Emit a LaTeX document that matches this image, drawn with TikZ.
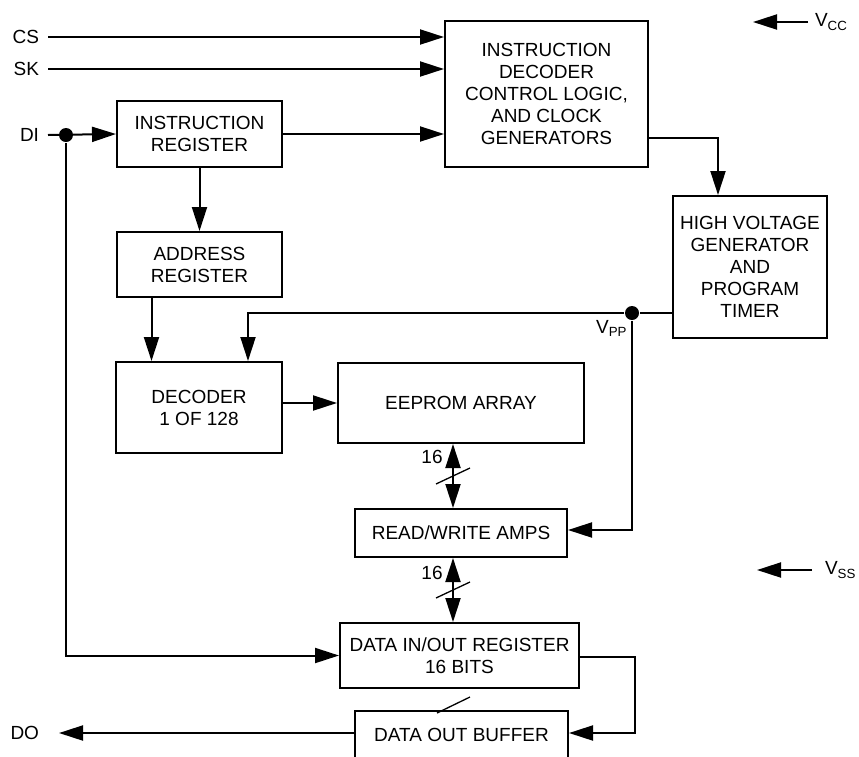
\documentclass[tikz,border=0pt]{standalone}
\usepackage{fontspec}
\setmainfont{Liberation Sans}
\usetikzlibrary{arrows.meta}
\begin{document}
\begin{tikzpicture}[x=1pt,y=-1pt,line width=2pt,
  >={Triangle[length=24pt,width=15pt]},
  every node/.style={font=\fontsize{19}{22}\selectfont},
  blk/.style={draw,align=center,inner sep=0pt},
  pin/.style={inner sep=0pt},
  dot/.style={circle,fill,inner sep=0pt,minimum size=14pt},
  bus/.style={line width=1.3pt}]
\useasboundingbox (0,0) rectangle (859,756);
\clip (0,0) rectangle (859,756);
\node[blk,minimum width=203pt,minimum height=146pt] (dec) at (546.5,94) {INSTRUCTION\\DECODER\\CONTROL LOGIC,\\AND CLOCK\\GENERATORS};
\node[blk,minimum width=165pt,minimum height=66pt] (ir) at (199.5,134) {INSTRUCTION\\REGISTER};
\node[blk,minimum width=165pt,minimum height=65pt] (addr) at (199.5,264.5) {ADDRESS\\REGISTER};
\node[blk,minimum width=154pt,minimum height=142pt] (hv) at (750,267) {HIGH VOLTAGE\\GENERATOR\\AND\\PROGRAM\\TIMER};
\node[blk,minimum width=166pt,minimum height=91pt] (decod) at (199,407.5) {DECODER\\1 OF 128};
\node[blk,minimum width=246pt,minimum height=80pt] (eeprom) at (461,403) {EEPROM ARRAY};
\node[blk,minimum width=212pt,minimum height=48pt] (rw) at (461,533) {READ/WRITE AMPS};
\node[blk,minimum width=239pt,minimum height=65pt] (dio) at (459.5,655.5) {DATA IN/OUT REGISTER\\16 BITS};
\node[blk,minimum width=213pt,minimum height=48pt] (buf) at (461.5,735) {DATA OUT BUFFER};
\node[pin,anchor=east] (cs) at (40,37) {CS};
\node[pin,anchor=east] (sk) at (40,69) {SK};
\node[pin,anchor=east] (di) at (40,135) {DI};
\node[pin,anchor=east] (do) at (40,733) {DO};
\node[pin,anchor=west] (vcc) at (814,22) {V\textsubscript{CC}};
\node[pin,anchor=west] (vss) at (824,570) {V\textsubscript{SS}};
\node[pin,anchor=north east] (vppl) at (628,319) {V\textsubscript{PP}};
\node[dot] (dij) at (66,135) {};
\node[dot] (vpp) at (632,313) {};
\node (b1) at (432,457) {16};
\node (b2) at (432,573) {16};
\draw[->] ([xshift=8pt]cs.east) -- (cs -| dec.west);
\draw[->] ([xshift=8pt]sk.east) -- (sk -| dec.west);
\draw[->] ([xshift=8pt]di.east) -- (ir.west);
\draw[->] (ir.east) -- (ir.east -| dec.west);
\draw[->] ([yshift=-44pt]dec.east) -| ([xshift=-32pt]hv.north);
\draw[->] (ir.south) -- (addr.north);
\draw[->] ([xshift=-48pt]addr.south) -- ([xshift=-48pt]addr.south |- decod.north);
\draw (hv.west |- vpp) -- (vpp);
\draw[->] (vpp) -| ([xshift=49pt]decod.north);
\draw[->] (vpp) |- ([yshift=3pt]rw.east);
\draw[->] (decod.east |- eeprom) -- (eeprom.west);
\draw[<->] ([xshift=-8pt]eeprom.south) -- coordinate (m1) ([xshift=-8pt]rw.north);
\draw[<->] ([xshift=-8pt]rw.south) -- coordinate (m2) ([xshift=-6.5pt]dio.north);
\draw[bus] ([shift={(-17,8)}]m1) -- ([shift={(17,-8)}]m1);
\draw[bus] ([shift={(-17,8)}]m2) -- ([shift={(17,-8)}]m2);
\draw[->] (dij) |- (dio.west);
\draw[->] ([yshift=-1pt]dio.east) -- ++(55,0) |- (buf.east |- do);
\draw[bus] ([shift={(-22.5,24)}]dio.south) -- ([shift={(10.5,8)}]dio.south);
\draw[->] (buf.west |- do) -- ([xshift=19pt]do.east);
\draw[->] ([xshift=-6pt]vcc.west) -- ++(-55,0);
\draw[->] ([xshift=-12pt]vss.west) -- ++(-55,0);
\end{tikzpicture}
\end{document}
